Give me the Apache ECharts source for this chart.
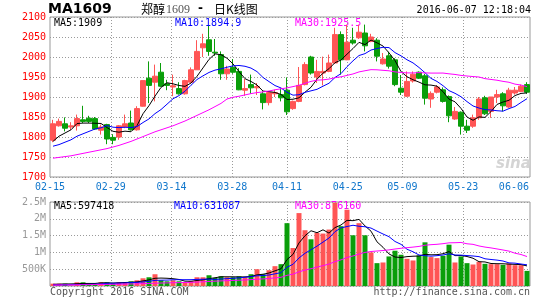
<!DOCTYPE html>
<html><head><meta charset="utf-8">
<script src="https://cdn.jsdelivr.net/npm/echarts@6/dist/echarts.min.js"></script>
<style>html,body{margin:0;padding:0;background:#fff}#c{width:545px;height:300px}</style>
</head><body><div id="c"></div>
<script>
// ---- data ----
const dates = ['02-15','02-16','02-17','02-18','02-19','02-22','02-23','02-24','02-25','02-26',
 '02-29','03-01','03-02','03-03','03-04','03-07','03-08','03-09','03-10','03-11',
 '03-14','03-15','03-16','03-17','03-18','03-21','03-22','03-23','03-24','03-25',
 '03-28','03-29','03-30','03-31','04-01','04-05','04-06','04-07','04-08',
 '04-11','04-12','04-13','04-14','04-15','04-18','04-19','04-20','04-21','04-22',
 '04-25','04-26','04-27','04-28','04-29','05-03','05-04','05-05','05-06',
 '05-09','05-10','05-11','05-12','05-13','05-16','05-17','05-18','05-19','05-20',
 '05-23','05-24','05-25','05-26','05-27','05-30','05-31','06-01','06-02','06-03',
 '06-06','06-07'];
const openP  = [1792,1828,1833,1825,1828,1843,1847,1846,1817,1831,
 1799,1800,1825,1835,1818,1877,1947,1937,1962,1933,
 1925,1921,1908,1937,1968,2023,2043,2012,2006,1958,
 1974,1964,1917,1931,1923,1908,1886,1908,1906,
 1917,1871,1889,1931,2000,1950,1960,1964,1985,2056,
 1993,2042,2048,2060,2039,2042,1983,2003,1993,
 1922,1902,1940,1962,1953,1895,1912,1918,1901,1845,
 1862,1827,1827,1848,1898,1864,1900,1908,1875,1910,
 1914,1931];
const closeP = [1833,1839,1822,1828,1846,1839,1839,1820,1825,1795,
 1792,1828,1833,1818,1871,1941,1929,1952,1927,1929,
 1928,1908,1941,1968,2014,2033,2014,2010,1958,1970,
 1962,1918,1921,1923,1926,1886,1911,1911,1898,
 1863,1889,1929,1981,1960,1964,1964,1985,2056,1993,
 2037,2035,2062,2028,2050,2002,1995,1977,1931,
 1912,1939,1957,1947,1897,1909,1925,1889,1853,1864,
 1827,1817,1848,1895,1858,1900,1906,1878,1917,1917,
 1927,1912];
const lowP   = [1787,1826,1814,1818,1816,1835,1835,1818,1806,1782,
 1782,1793,1822,1816,1816,1876,1885,1889,1925,1917,
 1902,1906,1906,1935,1968,2000,2003,2003,1943,1943,
 1958,1917,1903,1908,1905,1869,1879,1900,1889,
 1855,1868,1887,1929,1956,1935,1929,1962,1983,1956,
 1992,2031,2045,2014,2037,1989,1981,1971,1927,
 1905,1900,1936,1945,1881,1873,1909,1886,1837,1843,
 1806,1810,1823,1843,1855,1848,1885,1864,1873,1906,
 1912,1908];
const highP  = [1843,1846,1849,1837,1856,1878,1853,1850,1831,1833,
 1807,1830,1856,1866,1877,1941,1989,1981,1985,1943,
 1956,1937,1943,1974,2042,2058,2078,2045,2014,1978,
 1995,1972,1945,1956,1935,1914,1914,1918,1922,
 1949,1891,1975,1987,2003,1993,2001,2006,2073,2064,
 2081,2073,2081,2081,2058,2047,2010,2013,1997,
 1955,1964,1964,1964,1958,1914,1930,1924,1904,1875,
 1864,1843,1856,1900,1903,1900,1918,1912,1923,1925,
 1931,1937];
const volumes = [70000,70000,70000,20000,110000,110000,70000,70000,110000,110000,
 80000,110000,110000,140000,170000,230000,260000,350000,170000,140000,
 170000,140000,100000,150000,260000,260000,320000,240000,290000,260000,
 260000,290000,260000,350000,500000,350000,470000,590000,650000,1870000,
 1130000,2170000,1660000,1390000,1580000,1560000,1680000,2480000,1780000,2270000,
 1510000,1870000,1510000,1000000,680000,700000,880000,1050000,930000,810000,
 760000,910000,1300000,860000,830000,900000,1230000,700000,880000,680000,
 640000,720000,660000,650000,650000,630000,670000,620000,620000,450000];
// moving-average values before enough visible days exist
const priceMa5Head  = [1789,1802,1810,1818];
const priceMa10Head = [1777,1781,1787,1793,1802,1808,1814,1820,1823];
const priceMa30Head = [1747,1749,1751,1753,1756,1759,1762,1765,1768,1771,1775,1779,1784,1789,1795,1801,1807,1813,1818,1823,1828,1834,1840,1847,1854,1861,1868,1876,1884];
const volMa5Head  = [50000,55000,60000,62000];
const volMa10Head = [30000,32000,35000,38000,42000,46000,50000,55000,60000];
const volMa30Head = [30000,31000,32000,32000,35000,38000,40000,42000,45000,48000,50000,53000,56000,60000,64000,70000,76000,84000,88000,92000,97000,101000,104000,109000,117000,125000,135000,143000,152000];
const priceTicks = [1700,1750,1800,1850,1900,1950,2000,2050,2100];
const volTicks = [0,500000,1000000,1500000,2000000,2500000];
const labelDates = ['02-15','02-29','03-14','03-28','04-11','04-25','05-09','05-23','06-06'];
const gridDates  = ['02-29','03-14','03-28','04-11','04-25','05-09','05-23'];
const headerTitle = 'MA1609';
const headerName = '郑醇';
const headerCode = '1609';
const headerKind = '日K线图';
const headerTime = '2016-06-07 12:18:04';
const priceLegend = ['MA5:1909','MA10:1894.9','MA30:1925.5'];
const volLegend = ['MA5:597418','MA10:631087','MA30:876160'];
const footLeft = 'Copyright 2016 SINA.COM';
const footRight = 'http://finance.sina.com.cn';

// ---- helpers ----
function movingAvg(vals, n, head){
  return vals.map((v,i)=>{
    if(i < n-1) return head[i];
    let s=0; for(let k=i-n+1;k<=i;k++) s+=vals[k];
    return +(s/n).toFixed(2);
  });
}
const UP='#ff5555', DOWN='#0a9e0a';
const MONO='"DejaVu Sans Mono", "Liberation Mono", monospace';
const labelIdx = labelDates.map(d=>dates.indexOf(d));
const gridIdx = gridDates.map(d=>dates.indexOf(d));
const dotted = {color:'#9a9a9a', width:1, type:[1,2]};

const chart = echarts.init(document.getElementById('c'), null, {renderer:'canvas'});
const lineS = (name, data, color, xi, yi)=>({name, type:'line', data, xAxisIndex:xi, yAxisIndex:yi,
  showSymbol:false, symbol:'none', silent:true, lineStyle:{color, width:1}, z:5});

const option = {
  animation:false,
  backgroundColor:'#fff',
  grid:[
    {left:50, top:17, width:480, height:160, show:true, borderColor:'#999', borderWidth:1},
    {left:50, top:202, width:480, height:84, show:true, borderColor:'#999', borderWidth:1}
  ],
  xAxis:[
    {gridIndex:0, type:'category', data:dates, boundaryGap:true, axisLine:{show:false}, axisTick:{show:false}, axisLabel:{show:false}, splitLine:{show:false}},
    {gridIndex:0, type:'category', data:dates, boundaryGap:false, position:'bottom', offset:0,
      axisLine:{show:false}, axisTick:{show:false},
      axisLabel:{interval:(i)=>labelIdx.includes(i), color:'#1177cc', fontFamily:MONO, fontSize:10, margin:5,
        formatter:(v)=> v===labelDates[labelDates.length-1] ? '{r|'+v+'}' : v,
        rich:{r:{color:'#1177cc', fontFamily:MONO, fontSize:10, padding:[0,20,0,0]}}},
      splitLine:{show:true, interval:(i)=>gridIdx.includes(i), lineStyle:dotted}},
    {gridIndex:1, type:'category', data:dates, boundaryGap:true, axisLine:{show:false}, axisTick:{show:false}, axisLabel:{show:false}, splitLine:{show:false}},
    {gridIndex:1, type:'category', data:dates, boundaryGap:false, position:'bottom', offset:0,
      axisLine:{show:false}, axisTick:{show:false}, axisLabel:{show:false},
      splitLine:{show:true, interval:(i)=>gridIdx.includes(i), lineStyle:dotted}}
  ],
  yAxis:[
    {gridIndex:0, type:'value', min:priceTicks[0], max:priceTicks[priceTicks.length-1], interval:50,
      axisLine:{show:false}, axisTick:{show:false},
      axisLabel:{color:'#ff0000', fontFamily:MONO, fontSize:10, margin:4, formatter:(v)=>String(v)},
      splitLine:{show:true, lineStyle:dotted}},
    {gridIndex:1, type:'value', min:volTicks[0], max:volTicks[volTicks.length-1], interval:500000,
      axisLine:{show:false}, axisTick:{show:false},
      axisLabel:{color:'#999', fontFamily:MONO, fontSize:10, margin:4,
        formatter:(v)=> v===0 ? '' : (v<1000000 ? (v/1000)+'K' : (v/1000000)+'M')},
      splitLine:{show:true, lineStyle:dotted}}
  ],
  series:[
    {type:'candlestick', xAxisIndex:0, yAxisIndex:0, barWidth:5, silent:true, z:3,
      data: dates.map((d,i)=>[openP[i], closeP[i], lowP[i], highP[i]]),
      itemStyle:{color:UP, color0:DOWN, borderColor:UP, borderColor0:DOWN, borderWidth:1}},
    lineS('MA5', movingAvg(closeP,5,priceMa5Head), '#000000', 0, 0),
    lineS('MA10', movingAvg(closeP,10,priceMa10Head), '#0000ff', 0, 0),
    lineS('MA30', movingAvg(closeP,30,priceMa30Head), '#ff00ff', 0, 0),
    {type:'bar', xAxisIndex:2, yAxisIndex:1, barWidth:5, silent:true, z:3,
      data: volumes.map((v,i)=>({value:v, itemStyle:{color: closeP[i]>=openP[i] ? UP : DOWN}}))},
    lineS('VMA5', movingAvg(volumes,5,volMa5Head), '#000000', 2, 1),
    lineS('VMA10', movingAvg(volumes,10,volMa10Head), '#0000ff', 2, 1),
    lineS('VMA30', movingAvg(volumes,30,volMa30Head), '#ff00ff', 2, 1)
  ],
  graphic:[
    {type:'text', left:48, top:2, style:{text:headerTitle, font:'bold 14px "DejaVu Sans"', fill:'#000'}},
    {type:'text', left:141, top:3, style:{text:headerName, font:'12px "Noto Sans CJK SC"', fill:'#000'}},
    {type:'text', left:166, top:4, style:{text:headerCode, font:'12px "Liberation Serif"', fill:'#555'}},
    {type:'text', left:198, top:3, style:{text:'-', font:'bold 12px "DejaVu Sans"', fill:'#000'}},
    {type:'text', left:214, top:3, style:{text:headerKind, font:'12px "Noto Sans CJK SC"', fill:'#000'}},
    {type:'text', right:14, top:5, style:{text:headerTime, font:'10px '+MONO, fill:'#000'}},
    {type:'text', left:54, top:18, style:{text:priceLegend[0], font:'10px '+MONO, fill:'#000'}},
    {type:'text', left:175, top:18, style:{text:priceLegend[1], font:'10px '+MONO, fill:'#0000ff'}},
    {type:'text', left:295, top:18, style:{text:priceLegend[2], font:'10px '+MONO, fill:'#ff00ff'}},
    {type:'text', left:54, top:201, style:{text:volLegend[0], font:'10px '+MONO, fill:'#000'}},
    {type:'text', left:174, top:201, style:{text:volLegend[1], font:'10px '+MONO, fill:'#0000ff'}},
    {type:'text', left:295, top:201, style:{text:volLegend[2], font:'10px '+MONO, fill:'#ff00ff'}},
    {type:'text', left:50, top:287, style:{text:footLeft, font:'10px '+MONO, fill:'#555'}},
    {type:'text', right:15, top:287, style:{text:footRight, font:'10px '+MONO, fill:'#555'}},
    {type:'text', left:496, top:157, style:{text:'sina', font:'italic bold 15px "DejaVu Sans"', fill:'#d4d4d4'}}
  ]
};
chart.setOption(option);
</script>
</body></html>
